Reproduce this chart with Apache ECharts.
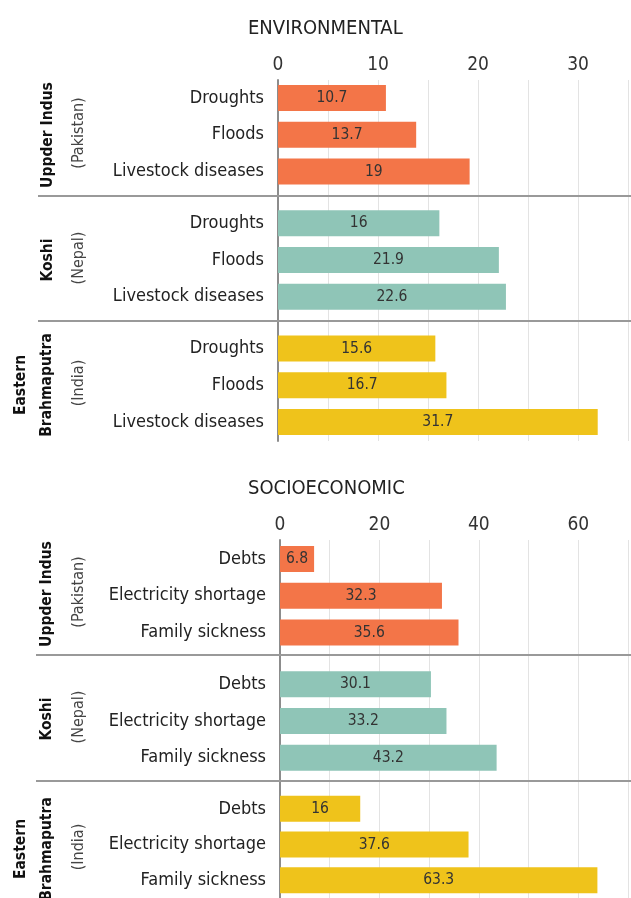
<!DOCTYPE html>
<html>
<head>
<meta charset="utf-8">
<script src="https://cdn.jsdelivr.net/npm/echarts@6/dist/echarts.min.js"></script>
<style>
  html, body { margin: 0; padding: 0; background: #fff; }
  #chart { width: 631px; height: 898px; }
</style>
</head>
<body>
<div id="chart"></div>
<script>
// data
var regions = ['Uppder Indus', 'Koshi', 'Eastern Brahmaputra'];
var countries = ['(Pakistan)', '(Nepal)', '(India)'];
var envCategories = ['Droughts', 'Floods', 'Livestock diseases'];
var socioCategories = ['Debts', 'Electricity shortage', 'Family sickness'];
var envUpperIndus = [10.7, 13.7, 19];
var envKoshi = [16, 21.9, 22.6];
var envBrahmaputra = [15.6, 16.7, 31.7];
var socioUpperIndus = [6.8, 32.3, 35.6];
var socioKoshi = [30.1, 33.2, 43.2];
var socioBrahmaputra = [16, 37.6, 63.3];
var envTicks = [0, 10, 20, 30];
var socioTicks = [0, 20, 40, 60];
var regionColors = ['#F37548', '#8FC5B7', '#EFC31B'];

var FONT = "'Liberation Sans Narrow', 'DejaVu Sans Condensed', 'DejaVu Sans', sans-serif";

var panels = [
  { title: 'ENVIRONMENTAL', titleTop: 14, bgTop: 80, bgBottom: 441, groupTop: 79.6, pitch: 125.3,
    left: 278, width: 358.75, max: 35, step: 5, ticks: envTicks, cats: envCategories,
    values: [envUpperIndus, envKoshi, envBrahmaputra], sepY: [196, 321], sepX: 38 },
  { title: 'SOCIOECONOMIC', titleTop: 474, bgTop: 540, bgBottom: 898, groupTop: 540.6, pitch: 125.2,
    left: 280, width: 358.75, max: 70, step: 10, ticks: socioTicks, cats: socioCategories,
    values: [socioUpperIndus, socioKoshi, socioBrahmaputra], sepY: [655, 781], sepX: 36 }
];

var grids = [], xAxes = [], yAxes = [], series = [], titles = [], graphics = [];

panels.forEach(function (p) {
  titles.push({
    text: p.title, left: 243, top: p.titleTop,
    textStyle: { fontFamily: FONT, fontSize: 20, fontWeight: 'normal', color: '#222' }
  });

  // background grid: top tick labels, gridlines, zero line
  var bg = grids.length;
  grids.push({ left: p.left, width: p.width, top: p.bgTop, height: p.bgBottom - p.bgTop });
  xAxes.push({
    gridIndex: bg, type: 'value', position: 'top', min: 0, max: p.max, interval: p.step,
    axisLine: { show: false }, axisTick: { show: false },
    axisLabel: {
      margin: 5, fontFamily: FONT, fontSize: 19, color: '#333',
      formatter: function (v) { return p.ticks.indexOf(v) >= 0 ? String(v) : ''; }
    },
    splitLine: { show: true, lineStyle: { color: '#e3e3e3', width: 1 } }
  });
  yAxes.push({
    gridIndex: bg, type: 'value', min: 0, max: 1,
    axisLine: { show: true, lineStyle: { color: '#8c8c8c', width: 2 } },
    axisTick: { show: false }, axisLabel: { show: false }, splitLine: { show: false }
  });

  p.values.forEach(function (vals, g) {
    var gi = grids.length;
    grids.push({ left: p.left, width: p.width, top: p.groupTop + g * p.pitch, height: 110.25 });
    xAxes.push({ gridIndex: gi, type: 'value', min: 0, max: p.max, show: false });
    yAxes.push({
      gridIndex: gi, type: 'category', data: p.cats, inverse: true,
      axisLine: { show: false }, axisTick: { show: false },
      axisLabel: { margin: 14, fontFamily: FONT, fontSize: 18, color: '#222' }
    });
    series.push({
      type: 'bar', xAxisIndex: gi, yAxisIndex: gi, data: vals, barWidth: 26,
      itemStyle: { color: regionColors[g] },
      label: { show: true, position: 'inside', fontFamily: FONT, fontSize: 15.5, color: '#333' },
      silent: true
    });
  });

  p.sepY.forEach(function (y) {
    graphics.push({
      type: 'line', shape: { x1: p.sepX, y1: y, x2: 631, y2: y },
      style: { stroke: '#999999', lineWidth: 2 }, z: 10
    });
  });
});

// rotated group labels
var labelPos = [
  [{ x: 48, y: 135 }, { x: 48, y: 260 }, { x: 34, y: 385 }],
  [{ x: 47, y: 594 }, { x: 47, y: 719 }, { x: 34, y: 849 }]
];
labelPos.forEach(function (panelPos) {
  panelPos.forEach(function (pos, g) {
    var words = regions[g].split(' ');
    var boldText = g === 2 ? words.join('\n') : regions[g];
    graphics.push({
      type: 'text', x: pos.x, y: pos.y, rotation: Math.PI / 2,
      style: {
        text: boldText, fontFamily: FONT, fontSize: 15.5, fontWeight: 'bold', fill: '#111',
        align: 'center', verticalAlign: 'middle', lineHeight: 26
      }
    });
    graphics.push({
      type: 'text', x: 79, y: pos.y - 2, rotation: Math.PI / 2,
      style: {
        text: countries[g], fontFamily: FONT, fontSize: 16, fill: '#444',
        align: 'center', verticalAlign: 'middle'
      }
    });
  });
});

var chart = echarts.init(document.getElementById('chart'), null, { renderer: 'canvas' });
chart.setOption({
  animation: false,
  title: titles,
  grid: grids,
  xAxis: xAxes,
  yAxis: yAxes,
  series: series,
  graphic: graphics
});
</script>
</body>
</html>
